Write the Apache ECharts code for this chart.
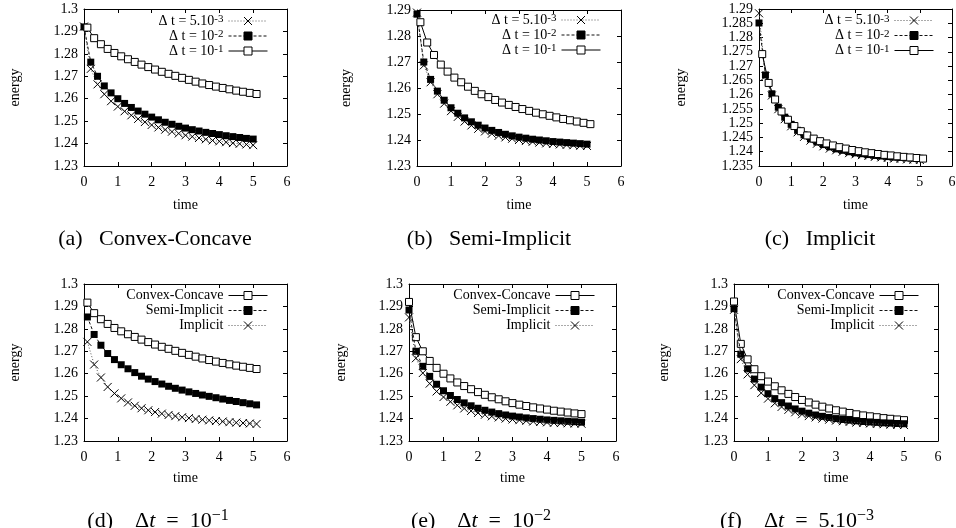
<!DOCTYPE html>
<html><head><meta charset="utf-8">
<script src="https://cdn.jsdelivr.net/npm/echarts@6/dist/echarts.min.js"></script>
<style>html,body{margin:0;padding:0;background:#fff}#c{width:956px;height:528px}</style>
</head><body><div id="c"></div>
<script>
// time stamps of the plotted points
const tCoarse = [0.1,0.3,0.5,0.7,0.9,1.1,1.3,1.5,1.7,1.9,2.1,2.3,2.5,2.7,2.9,3.1,3.3,3.5,3.7,3.9,4.1,4.3,4.5,4.7,4.9,5.1];
const tFine   = [0,0.2,0.4,0.6,0.8,1.0,1.2,1.4,1.6,1.8,2.0,2.2,2.4,2.6,2.8,3.0,3.2,3.4,3.6,3.8,4.0,4.2,4.4,4.6,4.8,5.0];

// energy, Convex-Concave
const ccDt1 = [1.2917,1.2870,1.2843,1.2822,1.2804,1.2789,1.2776,1.2764,1.2752,1.2741,1.2730,1.2720,1.2711,1.2702,1.2693,1.2684,1.2676,1.2668,1.2661,1.2654,1.2648,1.2642,1.2636,1.2631,1.2626,1.2621];
const ccDt2 = [1.2920,1.2763,1.2700,1.2657,1.2626,1.2600,1.2579,1.2561,1.2545,1.2531,1.2518,1.2506,1.2495,1.2486,1.2477,1.2469,1.2462,1.2456,1.2450,1.2445,1.2440,1.2435,1.2431,1.2427,1.2423,1.2420];
const ccDt3 = [1.2922,1.2733,1.2664,1.2620,1.2589,1.2565,1.2544,1.2526,1.2510,1.2496,1.2483,1.2472,1.2462,1.2453,1.2445,1.2437,1.2431,1.2425,1.2419,1.2414,1.2410,1.2406,1.2402,1.2399,1.2396,1.2393];
// energy, Semi-Implicit
const siDt1 = [1.2853,1.2775,1.2727,1.2690,1.2663,1.2640,1.2622,1.2605,1.2589,1.2576,1.2565,1.2554,1.2544,1.2535,1.2527,1.2519,1.2512,1.2505,1.2499,1.2493,1.2487,1.2481,1.2476,1.2471,1.2466,1.2461];
const siDt2 = [1.2884,1.2700,1.2633,1.2588,1.2553,1.2524,1.2503,1.2485,1.2470,1.2457,1.2446,1.2437,1.2429,1.2422,1.2416,1.2411,1.2407,1.2403,1.2400,1.2397,1.2394,1.2392,1.2390,1.2388,1.2386,1.2384];
const siDt3 = [1.2890,1.2687,1.2622,1.2576,1.2540,1.2511,1.2489,1.2471,1.2456,1.2443,1.2433,1.2424,1.2416,1.2410,1.2405,1.2400,1.2396,1.2393,1.2390,1.2387,1.2385,1.2383,1.2381,1.2380,1.2378,1.2377];
// energy, Implicit
const imDt1 = [1.2742,1.2641,1.2583,1.2541,1.2512,1.2490,1.2472,1.2457,1.2446,1.2437,1.2429,1.2422,1.2416,1.2411,1.2406,1.2402,1.2398,1.2395,1.2392,1.2389,1.2387,1.2384,1.2382,1.2380,1.2378,1.2376];
const imDt2 = [1.2851,1.2669,1.2603,1.2556,1.2521,1.2496,1.2475,1.2459,1.2445,1.2434,1.2425,1.2417,1.2410,1.2405,1.2400,1.2396,1.2393,1.2390,1.2387,1.2385,1.2383,1.2381,1.2380,1.2379,1.2378,1.2377];
const imDt3 = [1.2885,1.2665,1.2597,1.2549,1.2514,1.2489,1.2468,1.2452,1.2439,1.2428,1.2419,1.2411,1.2405,1.2400,1.2395,1.2391,1.2388,1.2385,1.2382,1.2380,1.2378,1.2376,1.2375,1.2373,1.2372,1.2371];

// legend labels
const stepNames = ['dt3','dt2','dt1'];
const methodNames = ['Convex-Concave','Semi-Implicit','Implicit'];
const legendLabels = {
  'dt3': '{n|Δ t = 5.10}{s|-3}',
  'dt2': '{n|Δ t = 10}{s|-2}',
  'dt1': '{n|Δ t = 10}{s|-1}',
  'Convex-Concave': '{n|Convex-Concave}',
  'Semi-Implicit': '{n|Semi-Implicit}',
  'Implicit': '{n|Implicit}'
};
const captions = [
  '{m|(a)   Convex-Concave}',
  '{m|(b)   Semi-Implicit}',
  '{m|(c)   Implicit}',
  '{m|(d)    Δ}{i|t}{m|  =  10}{s|−1}',
  '{m|(e)    Δ}{i|t}{m|  =  10}{s|−2}',
  '{m|(f)    Δ}{i|t}{m|  =  5.10}{s|−3}'
];

const FONT = 'Liberation Serif';
const styles = {
  open:   {symbol:'rect', symbolSize:7, itemStyle:{color:'#fff', borderColor:'#000', borderWidth:1}, lineStyle:{color:'#000', width:1, type:'solid'}},
  filled: {symbol:'rect', symbolSize:7, itemStyle:{color:'#000', borderColor:'#000', borderWidth:0}, lineStyle:{color:'#111', width:1, type:[3,2]}},
  cross:  {symbol:'path://M0,0L10,10M10,0L0,10', symbolSize:8, itemStyle:{color:'rgba(0,0,0,0)', borderColor:'#000', borderWidth:1}, lineStyle:{color:'#555', width:1, type:[1,2]}}
};

const panels = [
  {box:[84,9,203,157],  y:[1.23,1.30,0.01],  gy:62, gx:32, lr:688, lt:14, names:stepNames,
   s:[[tFine,ccDt3,'cross'],[tFine,ccDt2,'filled'],[tCoarse,ccDt1,'open']], cap:[155,239]},
  {box:[417,10,204,156],y:[1.23,1.29,0.01],  gy:64, gx:32, lr:355, lt:13, names:stepNames,
   s:[[tFine,siDt3,'cross'],[tFine,siDt2,'filled'],[tCoarse,siDt1,'open']], cap:[489,239]},
  {box:[759,9,193,157], y:[1.235,1.29,0.005],gy:71, gx:32, lr:22,  lt:13.5, names:stepNames,
   s:[[tFine,imDt3,'cross'],[tFine,imDt2,'filled'],[tCoarse,imDt1,'open']], cap:[820,239]},
  {box:[84,284,203,157],y:[1.23,1.30,0.01],  gy:62, gx:30, lr:688, lt:288.5, names:methodNames,
   s:[[tCoarse,ccDt1,'open'],[tCoarse,siDt1,'filled'],[tCoarse,imDt1,'cross']], cap:[158,521]},
  {box:[409,284,207,157],y:[1.23,1.30,0.01], gy:61, gx:30, lr:361, lt:288.5, names:methodNames,
   s:[[tFine,ccDt2,'open'],[tFine,siDt2,'filled'],[tFine,imDt2,'cross']], cap:[481,521]},
  {box:[734,284,204,157],y:[1.23,1.30,0.01], gy:63, gx:30, lr:37,  lt:288.5, names:methodNames,
   s:[[tFine,ccDt3,'open'],[tFine,siDt3,'filled'],[tFine,imDt3,'cross']], cap:[797,521]}
];

const txt = {fontFamily:FONT, fontSize:14, color:'#000'};
const line = {show:true, onZero:false, lineStyle:{color:'#000', width:1}};
const tick = {show:true, inside:true, length:4, lineStyle:{color:'#000', width:1}};

const grid=[], xAxis=[], yAxis=[], series=[], legend=[], graphic=[];
panels.forEach((p,i)=>{
  grid.push({left:p.box[0], top:p.box[1], width:p.box[2], height:p.box[3], outerBoundsMode:'none', containLabel:false});
  xAxis.push({gridIndex:i, type:'value', min:0, max:6, interval:1, position:'bottom',
    name:'time', nameLocation:'middle', nameGap:p.gx, nameTextStyle:txt,
    axisLine:line, axisTick:tick, axisLabel:Object.assign({margin:9}, txt), splitLine:{show:false}});
  xAxis.push({gridIndex:i, type:'value', min:0, max:6, interval:1, position:'top',
    axisLine:line, axisTick:tick, axisLabel:{show:false}, splitLine:{show:false}});
  yAxis.push({gridIndex:i, type:'value', min:p.y[0], max:p.y[1], interval:p.y[2], position:'left',
    name:'energy', nameLocation:'middle', nameRotate:90, nameGap:p.gy, nameTextStyle:txt,
    axisLine:line, axisTick:tick, axisLabel:Object.assign({margin:6}, txt), splitLine:{show:false}});
  yAxis.push({gridIndex:i, type:'value', min:p.y[0], max:p.y[1], interval:p.y[2], position:'right',
    axisLine:line, axisTick:tick, axisLabel:{show:false}, splitLine:{show:false}});
  p.s.forEach((s,k)=>{
    const st = styles[s[2]];
    series.push({type:'line', name:p.names[k], xAxisIndex:2*i, yAxisIndex:2*i,
      data:s[0].map((t,j)=>[t, s[1][j]]),
      symbol:st.symbol, symbolSize:st.symbolSize, itemStyle:st.itemStyle, lineStyle:st.lineStyle,
      showSymbol:true, animation:false, silent:true, emphasis:{disabled:true}, z:2+k});
  });
  legend.push({orient:'vertical', align:'right', right:p.lr, top:p.lt, padding:0, itemGap:1,
    itemWidth:39, itemHeight:10, selectedMode:false, data:p.names,
    formatter:n=>legendLabels[n],
    lineStyle:{width:1}, itemStyle:{borderWidth:1},
    textStyle:{fontFamily:FONT, fontSize:14, color:'#000',
      rich:{n:{fontFamily:FONT, fontSize:14, lineHeight:14, color:'#000'},
            s:{fontFamily:FONT, fontSize:11, lineHeight:6, verticalAlign:'top', color:'#000'}}}});
  graphic.push({type:'text', x:p.cap[0], y:p.cap[1], silent:true,
    style:{text:captions[i], align:'center', verticalAlign:'middle', fontFamily:FONT, fontSize:22, fill:'#000',
      rich:{m:{fontFamily:FONT, fontSize:22, lineHeight:26, fill:'#000'},
            i:{fontFamily:FONT, fontSize:22, fontStyle:'italic', lineHeight:26, fill:'#000'},
            s:{fontFamily:FONT, fontSize:16, lineHeight:10, verticalAlign:'top', fill:'#000'}}}});
});

const chart = echarts.init(document.getElementById('c'), null, {renderer:'canvas'});
chart.setOption({animation:false, backgroundColor:'#fff', grid, xAxis, yAxis, series, legend, graphic});
</script></body></html>
